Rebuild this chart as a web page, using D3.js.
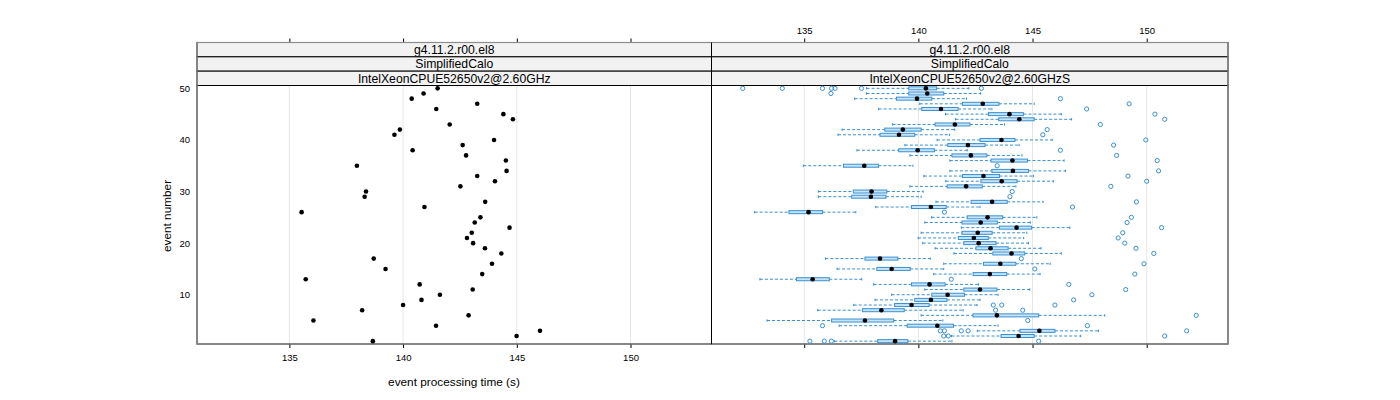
<!DOCTYPE html>
<html>
<head>
<meta charset="utf-8">
<script src="https://cdn.jsdelivr.net/npm/d3@7"></script>
<style>
  body { margin: 0; background: #fff; }
  svg { font-family: "Liberation Sans", Arial, sans-serif; }
</style>
</head>
<body>
<svg id="chart" width="1400" height="400"></svg>
<script>
// ---------------- data ----------------
const events = d3.range(1, 51);
const xTicks = [135, 140, 145, 150];
const yTicks = [10, 20, 30, 40, 50];
const stripLabels = [
  ["g4.11.2.r00.el8", "SimplifiedCalo", "IntelXeonCPUE52650v2@2.60GHz"],
  ["g4.11.2.r00.el8", "SimplifiedCalo", "IntelXeonCPUE52650v2@2.60GHzS"]
];
// left panel: one time per event (event 1..50)
const singleTime = [138.67,144.99,146.02,141.45,136.06,142.88,138.20,140.00,140.81,141.62,
  143.06,140.73,135.72,143.48,139.23,143.91,138.71,144.32,143.60,143.08,
  142.81,143.02,144.68,143.15,143.40,135.54,140.94,143.61,138.31,138.37,
  142.52,144.04,143.26,144.55,137.97,144.52,142.77,140.42,142.62,144.00,
  139.62,139.86,142.05,144.83,144.41,141.46,143.26,140.38,140.90,141.52];
// right panel: box statistics per event (event 1..50)
const whiskLo = [136.32,141.45,142.58,136.53,133.37,140.12,135.59,137.17,138.10,138.83,
  140.28,138.04,133.06,140.67,136.44,141.11,135.93,141.56,140.73,140.19,
  139.99,140.12,141.88,140.28,140.58,132.83,138.13,140.77,135.62,135.62,
  139.63,141.20,140.24,141.38,134.96,141.38,139.63,137.31,139.41,140.82,
  136.48,136.66,138.87,141.63,141.19,138.26,140.06,137.21,137.73,137.73];
const boxQ1 = [138.22,143.62,144.45,139.51,136.20,142.39,137.55,138.96,139.84,140.59,
  141.99,139.70,134.66,142.40,138.18,142.85,137.66,143.26,142.52,141.99,
  141.75,141.91,143.55,141.91,142.14,134.33,139.70,142.31,137.08,137.15,
  141.26,142.74,141.93,143.22,136.72,143.18,141.47,139.14,141.29,142.70,
  138.32,138.53,140.73,143.52,143.07,140.15,141.93,139.04,139.58,139.58];
const boxMed = [138.98,144.39,145.30,140.83,137.66,143.44,138.38,139.70,140.55,141.28,
  142.70,140.49,135.37,143.13,138.83,143.59,138.32,144.08,143.16,142.64,
  142.43,142.60,144.30,142.73,143.03,135.19,140.55,143.23,137.92,137.95,
  142.09,143.65,142.85,144.14,137.63,144.12,142.30,139.97,142.17,143.64,
  139.15,139.32,141.60,144.42,143.99,140.99,142.82,139.94,140.39,140.33];
const boxQ3 = [139.54,145.07,145.98,141.54,138.92,145.27,139.38,140.47,141.25,142.02,
  143.44,141.17,136.10,143.87,139.64,144.27,139.10,144.66,143.93,143.40,
  143.06,143.23,144.96,143.46,143.69,135.80,141.22,143.89,138.58,138.62,
  142.80,144.32,143.55,144.82,138.25,144.78,143.00,140.70,142.92,144.23,
  139.84,140.12,142.26,145.07,144.60,141.74,143.53,140.59,141.11,140.80];
const whiskHi = [141.47,147.11,147.89,143.49,141.07,148.16,141.96,142.57,142.70,143.49,
  144.88,142.63,137.52,145.33,141.11,145.77,140.52,146.26,145.37,144.82,
  144.61,144.75,146.63,144.90,145.19,137.26,142.70,145.46,140.12,140.21,
  144.27,145.91,145.04,146.44,139.76,146.38,144.54,142.14,144.41,145.86,
  141.36,141.59,143.77,146.71,146.26,143.22,145.07,142.11,142.73,142.21];
const outliers = [
  [135.25,135.88,136.19,145.27],[141.11,141.31,150.79],[140.96,141.14,141.88,142.18,151.75],
  [135.80,147.40],[144.79],[152.17],[143.38,144.57],[143.28,143.65,145.98],[146.80],[147.60],
  [149.08],[146.59],[141.44],[149.48],[145.10],[149.88],[144.51],[150.31],[149.53],[149.04],
  [148.75],[148.95],[150.65],[149.14],[149.33],[141.14],[146.75],[149.55],[144.01],[144.11],
  [148.43],[150.00],[149.18],[150.52],[143.45],[150.46],[148.68],[146.22],[148.55],[149.96],
  [145.45],[145.64],[147.97],[150.79],[150.36],[147.37],[149.23],[146.22],[136.17],
  [132.31,134.04,135.80,136.20,136.35,137.51,142.76]
];

// ---------------- layout ----------------
const svg = d3.select("#chart");
const panelTop = 85.5, panelBottom = 344;
const stripTop = 42.5, stripH = (panelTop - stripTop) / 3;
const panels = [{x0: 197, x1: 711.5}, {x0: 711.5, x1: 1228}];
const xDomain = [130.94, 153.56];
const y = d3.scaleLinear().domain([0.45, 50.55]).range([panelBottom, panelTop]);
const blue = "#3a8fd0", blueFill = "#c4e4f8";

panels.forEach((p, i) => {
  p.x = d3.scaleLinear().domain(xDomain).range([p.x0, p.x1]);
  const g = svg.append("g");
  // grid
  g.selectAll("line.grid").data(xTicks).join("line")
    .attr("x1", d => p.x(d)).attr("x2", d => p.x(d))
    .attr("y1", panelTop).attr("y2", panelBottom)
    .attr("stroke", "#e6e6e6").attr("stroke-width", 1);
  // strips
  stripLabels[i].forEach((lab, k) => {
    const sy = stripTop + k * stripH;
    g.append("rect").attr("x", p.x0).attr("y", sy).attr("width", p.x1 - p.x0).attr("height", stripH)
      .attr("fill", "#f2f2f2").attr("stroke", "#000").attr("stroke-width", 1);
    g.append("text").attr("x", (p.x0 + p.x1) / 2).attr("y", sy + stripH / 2 + 4.3)
      .attr("text-anchor", "middle").attr("font-size", 12.2).attr("fill", "#000").text(lab);
  });
  // panel border
  g.append("rect").attr("x", p.x0).attr("y", panelTop).attr("width", p.x1 - p.x0)
    .attr("height", panelBottom - panelTop).attr("fill", "none").attr("stroke", "#000").attr("stroke-width", 1);
  // top axis (ticks; labels only on right panel)
  const top = d3.axisTop(p.x).tickValues(xTicks).tickSize(4).tickSizeOuter(0)
    .tickFormat(i === 1 ? d3.format("d") : () => "");
  const ta = svg.append("g").attr("transform", `translate(0,${stripTop})`).call(top);
  // bottom axis (labels only on left panel)
  const bot = d3.axisBottom(p.x).tickValues(xTicks).tickSize(4).tickSizeOuter(0)
    .tickFormat(i === 0 ? d3.format("d") : () => "");
  const ba = svg.append("g").attr("transform", `translate(0,${panelBottom})`).call(bot);
  [ta, ba].forEach(a => {
    a.select(".domain").remove();
    a.selectAll(".tick line").attr("stroke", "#000");
    a.selectAll(".tick text").attr("font-size", 9.5).attr("fill", "#000")
      .attr("font-family", "Liberation Sans, Arial, sans-serif");
  });
  ta.selectAll(".tick text").attr("dy", "-0.2em");
  ba.selectAll(".tick text").attr("dy", "1.05em");
});

// outer gray frame
svg.append("rect").attr("x", panels[0].x0).attr("y", stripTop)
  .attr("width", panels[1].x1 - panels[0].x0).attr("height", panelBottom - stripTop)
  .attr("fill", "none").attr("stroke", "#8c8c8c").attr("stroke-width", 1.2);
svg.append("line").attr("x1", panels[0].x1).attr("x2", panels[0].x1)
  .attr("y1", stripTop).attr("y2", panelBottom).attr("stroke", "#000");

// y axis labels (left)
const ya = d3.axisLeft(y).tickValues(yTicks).tickSize(0).tickPadding(7).tickFormat(d3.format("d"));
const yag = svg.append("g").attr("transform", `translate(${panels[0].x0},0)`).call(ya);
yag.select(".domain").remove();
yag.selectAll(".tick text").attr("font-size", 9.5).attr("fill", "#000")
  .attr("font-family", "Liberation Sans, Arial, sans-serif");

// axis titles
svg.append("text").attr("x", 454).attr("y", 386).attr("text-anchor", "middle")
  .attr("font-size", 11.8).attr("fill", "#000").text("event processing time (s)");
svg.append("text").attr("transform", "translate(171,216) rotate(-90)").attr("text-anchor", "middle")
  .attr("font-size", 11.8).attr("fill", "#000").text("event number");

// ---------------- left panel: dots ----------------
const xl = panels[0].x;
svg.append("g").selectAll("circle").data(events).join("circle")
  .attr("cx", e => xl(singleTime[e - 1])).attr("cy", e => y(e))
  .attr("r", 2.3).attr("fill", "#000");

// ---------------- right panel: boxplots ----------------
const xr = panels[1].x;
const bh = 3.0;
const bg = svg.append("g");
events.forEach(e => {
  const i = e - 1, cy = y(e);
  const g = bg.append("g");
  // whiskers
  [[whiskLo[i], boxQ1[i]], [boxQ3[i], whiskHi[i]]].forEach(([a, b]) => {
    g.append("line").attr("x1", xr(a)).attr("x2", xr(b)).attr("y1", cy).attr("y2", cy)
      .attr("stroke", blue).attr("stroke-width", 1).attr("stroke-dasharray", "3,2");
  });
  [whiskLo[i], whiskHi[i]].forEach(v => {
    g.append("line").attr("x1", xr(v)).attr("x2", xr(v)).attr("y1", cy - 1.2).attr("y2", cy + 1.2)
      .attr("stroke", blue).attr("stroke-width", 1);
  });
  // box
  g.append("rect").attr("x", xr(boxQ1[i])).attr("y", cy - bh / 2)
    .attr("width", xr(boxQ3[i]) - xr(boxQ1[i])).attr("height", bh)
    .attr("fill", blueFill).attr("stroke", blue).attr("stroke-width", 1);
  // median
  g.append("circle").attr("cx", xr(boxMed[i])).attr("cy", cy).attr("r", 2.3).attr("fill", "#000");
  // outliers
  g.selectAll("circle.out").data(outliers[i]).join("circle").attr("class", "out")
    .attr("cx", v => xr(v)).attr("cy", cy).attr("r", 2.1)
    .attr("fill", "none").attr("stroke", blue).attr("stroke-width", 1);
});
</script>
</body>
</html>
